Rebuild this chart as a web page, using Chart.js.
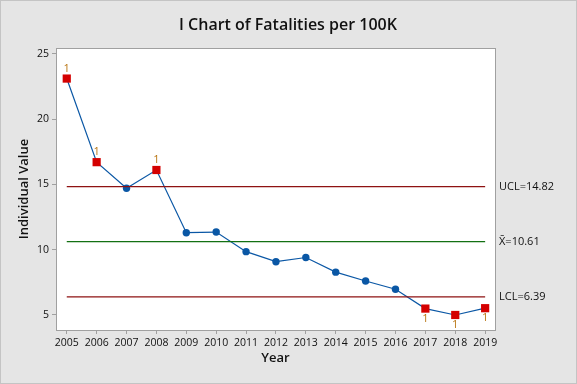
<!DOCTYPE html>
<html>
<head>
<meta charset="utf-8">
<script src="https://cdn.jsdelivr.net/npm/chart.js@4/dist/chart.umd.min.js"></script>
<style>
  body { margin: 0; background: #e5e5e5; }
  #wrap { width: 577px; height: 384px; }
</style>
</head>
<body>
<div id="wrap"><canvas id="iChart" width="577" height="384"></canvas></div>
<script>
const years = [2005, 2006, 2007, 2008, 2009, 2010, 2011, 2012, 2013, 2014, 2015, 2016, 2017, 2018, 2019];
const fatalities = [23.1, 16.7, 14.7, 16.1, 11.3, 11.35, 9.85, 9.08, 9.4, 8.28, 7.6, 6.97, 5.49, 5.0, 5.52];
const ucl = 14.82;
const mean = 10.61;
const lcl = 6.39;
const yTicks = [5, 10, 15, 20, 25];
const xTicks = years;

const FONT = "'Open Sans', 'Noto Sans', sans-serif";

const flagged = fatalities.map(v => v > ucl || v < lcl);

function limitLine(val, color) {
  return {
    data: [{ x: years[0], y: val }, { x: years[years.length - 1], y: val }],
    borderColor: color,
    borderWidth: 1.3,
    pointRadius: 0,
    fill: false
  };
}

const framePlugin = {
  id: 'frame',
  beforeDraw(chart) {
    const ctx = chart.ctx;
    const a = chart.chartArea;
    ctx.save();
    ctx.fillStyle = '#e5e5e5';
    ctx.fillRect(0, 0, chart.width, chart.height);
    ctx.strokeStyle = '#c4c4c4';
    ctx.lineWidth = 1;
    ctx.strokeRect(0.5, 0.5, chart.width - 1, chart.height - 1);
    ctx.fillStyle = '#ffffff';
    ctx.fillRect(a.left, a.top, a.right - a.left, a.bottom - a.top);
    ctx.restore();
  },
  afterDraw(chart) {
    const ctx = chart.ctx;
    const a = chart.chartArea;
    const x = chart.scales.x, y = chart.scales.y;
    ctx.save();
    ctx.strokeStyle = '#a0a0a0';
    ctx.lineWidth = 1;
    ctx.strokeRect(Math.round(a.left) + 0.5, Math.round(a.top) + 0.5,
      Math.round(a.right - a.left), Math.round(a.bottom - a.top));

    // title
    ctx.fillStyle = '#111111';
    ctx.textAlign = 'center';
    ctx.textBaseline = 'middle';
    ctx.font = "600 16px " + FONT;
    ctx.fillText('I Chart of Fatalities per 100K', 288, 25);

    // axis titles
    ctx.font = "600 13px " + FONT;
    ctx.fillText('Year', (a.left + a.right) / 2, 358);
    ctx.save();
    ctx.translate(24, (a.top + a.bottom) / 2);
    ctx.rotate(-Math.PI / 2);
    ctx.fillText('Individual Value', 0, 0);
    ctx.restore();

    // limit labels
    ctx.font = "11px " + FONT;
    ctx.textAlign = 'left';
    ctx.fillStyle = '#111111';
    ctx.fillText('UCL=' + ucl.toFixed(2), a.right + 4, y.getPixelForValue(ucl));
    ctx.fillText('X\u0304=' + mean.toFixed(2), a.right + 4, y.getPixelForValue(mean));
    ctx.fillText('LCL=' + lcl.toFixed(2), a.right + 4, y.getPixelForValue(lcl));

    // test 1 flags
    ctx.textAlign = 'center';
    ctx.fillStyle = '#b87410';
    fatalities.forEach((v, i) => {
      if (!flagged[i]) return;
      const px = x.getPixelForValue(years[i]);
      const py = y.getPixelForValue(v);
      ctx.fillText('1', px, v > ucl ? py - 10 : py + 10);
    });
    ctx.restore();
  }
};

new Chart(document.getElementById('iChart'), {
  type: 'line',
  data: {
    datasets: [
      limitLine(ucl, '#8e1212'),
      limitLine(mean, '#137013'),
      limitLine(lcl, '#8e1212'),
      {
        data: years.map((yr, i) => ({ x: yr, y: fatalities[i] })),
        borderColor: '#0a57a5',
        borderWidth: 1.2,
        pointStyle: flagged.map(f => f ? 'rect' : 'circle'),
        pointRadius: flagged.map(f => f ? 5.8 : 3.7),
        pointBackgroundColor: flagged.map(f => f ? '#d40000' : '#0a57a5'),
        pointBorderColor: flagged.map(f => f ? '#d40000' : '#0a57a5'),
        pointBorderWidth: 0,
        fill: false
      }
    ]
  },
  options: {
    responsive: false,
    animation: false,
    layout: { padding: { top: 48, right: 82, left: 0, bottom: 0 } },
    plugins: { legend: { display: false }, tooltip: { enabled: false }, title: { display: false } },
    scales: {
      x: {
        type: 'linear',
        min: 2004.64,
        max: 2019.33,
        afterFit(s) { s.height = 54; },
        afterBuildTicks(s) { s.ticks = xTicks.map(v => ({ value: v })); },
        grid: { drawOnChartArea: false, tickLength: 4, color: '#a0a0a0' },
        border: { color: '#a0a0a0' },
        ticks: {
          autoSkip: false,
          maxRotation: 0,
          padding: 3,
          color: '#111111',
          font: { family: FONT, size: 10.5 },
          callback: v => String(v)
        }
      },
      y: {
        min: 3.85,
        max: 25.44,
        afterFit(s) { s.width = 56; },
        afterBuildTicks(s) { s.ticks = yTicks.map(v => ({ value: v })); },
        grid: { drawOnChartArea: false, tickLength: 4, color: '#a0a0a0' },
        border: { color: '#a0a0a0' },
        ticks: {
          padding: 3,
          color: '#111111',
          font: { family: FONT, size: 10.5 },
          callback: v => String(v)
        }
      }
    }
  },
  plugins: [framePlugin]
});
</script>
</body>
</html>
